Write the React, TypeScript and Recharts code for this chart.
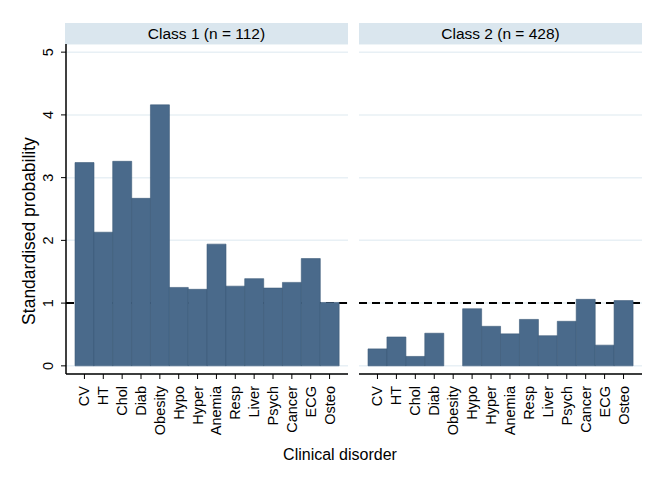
import React from 'react';
import {
  BarChart,
  Bar,
  XAxis,
  YAxis,
  CartesianGrid,
  ReferenceLine,
} from 'recharts';

const disorders = [
  'CV', 'HT', 'Chol', 'Diab', 'Obesity', 'Hypo', 'Hyper',
  'Anemia', 'Resp', 'Liver', 'Psych', 'Cancer', 'ECG', 'Osteo',
];
const class1Values = [3.24, 2.13, 3.26, 2.67, 4.16, 1.25, 1.22, 1.94, 1.27, 1.39, 1.24, 1.33, 1.71, 1.01];
const class2Values = [0.27, 0.46, 0.15, 0.52, 0, 0.91, 0.63, 0.51, 0.74, 0.48, 0.71, 1.06, 0.33, 1.04];
const yTicks = [0, 1, 2, 3, 4, 5];
const panelTitles = ['Class 1 (n = 112)', 'Class 2 (n = 428)'];

const FONT = '"Liberation Sans", Arial, Helvetica, sans-serif';
const BAR_FILL = '#4a6a8b';
const STRIP_FILL = '#dae6ee';
const GRID = '#e8f0f5';

const class1Data = disorders.map((name, i) => ({ name, value: class1Values[i] }));
const class2Data = disorders.map((name, i) => ({ name, value: class2Values[i] }));

// x tick labels: vertical, reading upward, hanging below the axis
const XTick = (props: any) => {
  const { x, payload } = props;
  const y = 386;
  return (
    <text
      x={x}
      y={y}
      transform={`rotate(-90 ${x} ${y})`}
      textAnchor="end"
      dominantBaseline="central"
      fontSize={14.5}
      fontFamily={FONT}
      fill="#000"
    >
      {payload.value}
    </text>
  );
};

const YTick = (props: any) => {
  const { y, payload } = props;
  const x = 48;
  return (
    <text
      x={x}
      y={y}
      transform={`rotate(-90 ${x} ${y})`}
      textAnchor="middle"
      dominantBaseline="central"
      fontSize={14.5}
      fontFamily={FONT}
      fill="#000"
    >
      {payload.value}
    </text>
  );
};

interface PanelProps {
  data: { name: string; value: number }[];
  width: number;
  left: number;
  showY: boolean;
}

const Panel: React.FC<PanelProps> = ({ data, width, left, showY }) => (
  <BarChart
    width={width}
    height={484}
    data={data}
    barCategoryGap={0}
    margin={{ top: 44, right: 8, left, bottom: 0 }}
  >
    <CartesianGrid horizontal vertical={false} stroke={GRID} strokeWidth={1.5} />
    <XAxis
      dataKey="name"
      interval={0}
      height={110}
      padding={{ left: 9, right: 9 }}
      axisLine={{ stroke: '#000', strokeWidth: 1.5 }}
      tickLine={{ stroke: '#000', strokeWidth: 1 }}
      tickSize={5}
      tick={<XTick />}
    />
    <YAxis
      hide={!showY}
      width={66}
      domain={[-0.13, 5.13]}
      ticks={yTicks}
      allowDataOverflow
      axisLine={{ stroke: '#000', strokeWidth: 1.5 }}
      tickLine={{ stroke: '#000', strokeWidth: 1 }}
      tickSize={5}
      tick={<YTick />}
    />
    <ReferenceLine y={1} stroke="#000" strokeWidth={2} strokeDasharray="8 5" zIndex={0} />
    <Bar
      dataKey="value"
      fill={BAR_FILL}
      stroke="#3d5a78"
      strokeWidth={0.6}
      isAnimationActive={false}
    />
  </BarChart>
);

const Strip: React.FC<{ left: number; width: number; title: string }> = ({ left, width, title }) => (
  <div
    style={{
      position: 'absolute',
      left,
      top: 23,
      width,
      height: 21,
      background: STRIP_FILL,
      fontFamily: FONT,
      fontSize: 15.5,
      lineHeight: '21px',
      textAlign: 'center',
      color: '#000',
    }}
  >
    {title}
  </div>
);

export default function App() {
  return (
    <div
      style={{
        position: 'absolute',
        top: 0,
        left: 0,
        width: 665,
        height: 484,
        background: '#fff',
        overflow: 'hidden',
      }}
    >
      <div style={{ position: 'absolute', left: 0, top: 0 }}>
        <Panel data={class1Data} width={356} left={0} showY />
      </div>
      <div style={{ position: 'absolute', left: 340, top: 0 }}>
        <Panel data={class2Data} width={310} left={19} showY={false} />
      </div>
      <Strip left={65} width={283} title={panelTitles[0]} />
      <Strip left={359} width={283} title={panelTitles[1]} />
      <div
        style={{
          position: 'absolute',
          left: 29,
          top: 231,
          transform: 'translate(-50%, -50%) rotate(-90deg)',
          whiteSpace: 'nowrap',
          fontFamily: FONT,
          fontSize: 17.5,
          color: '#000',
        }}
      >
        Standardised probability
      </div>
      <div
        style={{
          position: 'absolute',
          left: 340,
          top: 455,
          transform: 'translate(-50%, -50%)',
          whiteSpace: 'nowrap',
          fontFamily: FONT,
          fontSize: 16,
          color: '#000',
        }}
      >
        Clinical disorder
      </div>
    </div>
  );
}
